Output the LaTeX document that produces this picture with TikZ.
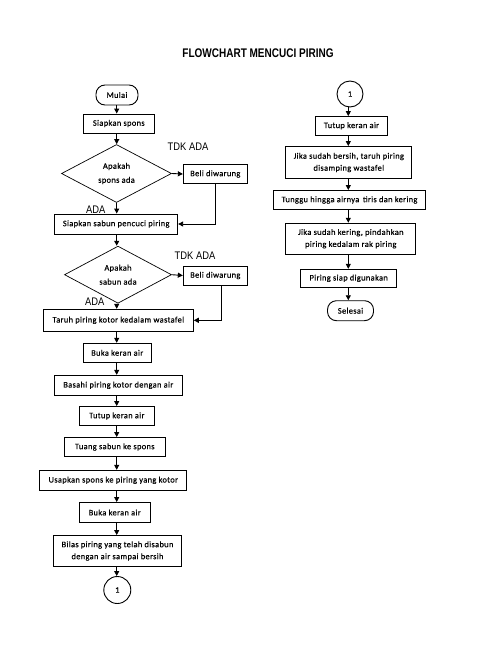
\documentclass[tikz,border=0pt]{standalone}
\usepackage{fontspec}
\setmainfont{Carlito}
\newfontfamily\boxfont{Carlito}[LetterSpace=4,FakeBold=0.4]
\newfontfamily\narrowfont{Liberation Sans}[FakeStretch=0.85]
\newfontfamily\titlefont{Liberation Sans}[FakeStretch=0.8]
\usetikzlibrary{shapes.geometric,arrows.meta,calc}
\begin{document}
\begin{tikzpicture}[x=1pt,y=-1pt,
  every node/.style={inner sep=0pt,font=\boxfont\fontsize{8.4}{12}\selectfont},
  box/.style={draw,line width=0.9pt,align=center},
  term/.style={draw,line width=0.9pt,rounded corners=9pt},
  dec/.style={draw,diamond,line width=0.7pt,align=center,font=\boxfont\fontsize{8.4}{14}\selectfont},
  conn/.style={draw,circle,line width=0.9pt},
  lbl/.style={font=\narrowfont\fontsize{11}{12}\selectfont},
  arr/.style={line width=0.9pt,-{Triangle[length=5pt,width=5pt]}}]
\useasboundingbox (0,0) rectangle (487,653);
\coordinate (colL) at (116.7,0);
\coordinate (colR) at (348.3,0);
\node (title) at (258,53) {\titlefont\bfseries\fontsize{12.5}{14}\selectfont FLOWCHART MENCUCI PIRING};
% left column
\node[term,minimum width=42,minimum height=20] (mulai) at (117,95) {Mulai};
\node[box,minimum width=71,minimum height=19] (s1) at (118.8,123.5) {Siapkan spons};
\node[dec,minimum width=110,minimum height=58] (d1) at (116.5,173.5) {Apakah\\spons ada};
\node[box,minimum width=64,minimum height=19] (b1) at (215.3,174) {Beli diwarung};
\node[box,minimum width=123,minimum height=20] (s2) at (116.2,224) {Siapkan sabun pencuci piring};
\node[dec,minimum width=107,minimum height=53] (d2) at (118,274.7) {Apakah\\sabun ada};
\node[box,minimum width=64,minimum height=19] (b2) at (215.3,275.5) {Beli diwarung};
\node[box,minimum width=150,minimum height=22] (s3) at (118.3,320.3) {Taruh piring kotor kedalam wastafel};
\node[box,minimum width=68,minimum height=19] (s4) at (117.2,352.8) {Buka keran air};
\node[box,minimum width=128,minimum height=20] (s5) at (118.3,385.3) {Basahi piring kotor dengan air};
\node[box,minimum width=75,minimum height=19] (s6) at (116.8,416) {Tutup keran air};
\node[box,minimum width=101,minimum height=19] (s7) at (114.8,447) {Tuang sabun ke spons};
\node[box,minimum width=147,minimum height=20] (s8) at (113.3,480.3) {Usapkan spons ke piring yang kotor};
\node[box,minimum width=71,minimum height=20] (s9) at (114.7,512.5) {Buka keran air};
\node[box,minimum width=128,minimum height=31] (s10) at (117.5,551) {Bilas piring yang telah disabun\\dengan air sampai bersih};
\node[conn,minimum size=27] (c1) at (117.3,590) {1};
% labels
\node[lbl] (tdk1) at (188,147) {TDK ADA};
\node[lbl] (ada1) at (95.7,210) {ADA};
\node[lbl] (tdk2) at (195,256) {TDK ADA};
\node[lbl] (ada2) at (94.7,302) {ADA};
% right column
\node[conn,minimum size=26] (c2) at (350,94) {1};
\node[box,minimum width=72,minimum height=18.5] (r1) at (351.5,125.8) {Tutup keran air};
\node[box,minimum width=126,minimum height=32] (r2) at (348.8,162.5) {Jika sudah bersih, taruh piring\\disamping wastafel};
\node[box,minimum width=152,minimum height=19] (r3) at (349.5,200) {Tunggu hingga airnya\, tiris dan kering};
\node[box,minimum width=130,minimum height=31] (r4) at (350.8,238.7) {Jika sudah kering, pindahkan\\piring kedalam rak piring};
\node[box,minimum width=96,minimum height=18] (r5) at (348.7,278.3) {Piring siap digunakan};
\node[term,minimum width=46,minimum height=20] (r6) at (350.5,310.7) {Selesai};
% left arrows
\foreach \a/\b in {mulai/s1,s1/d1,d1/s2,s2/d2,d2/s3,s3/s4,s4/s5,s5/s6,s6/s7,s7/s8,s8/s9,s9/s10,s10/c1}
  \draw[arr] (\a.south -| colL) -- (\b.north -| colL);
\draw[arr] (d1.east) -- (b1.west);
\draw[arr] (d2.east) -- (b2.west);
\draw[arr] (b1.south) |- (s2.east);
\draw[arr] ([xshift=6pt]b2.south) |- (s3.east);
% right arrows
\foreach \a/\b in {c2/r1,r1/r2,r2/r3,r3/r4,r4/r5,r5/r6}
  \draw[arr] (\a.south -| colR) -- (\b.north -| colR);
\end{tikzpicture}
\end{document}
